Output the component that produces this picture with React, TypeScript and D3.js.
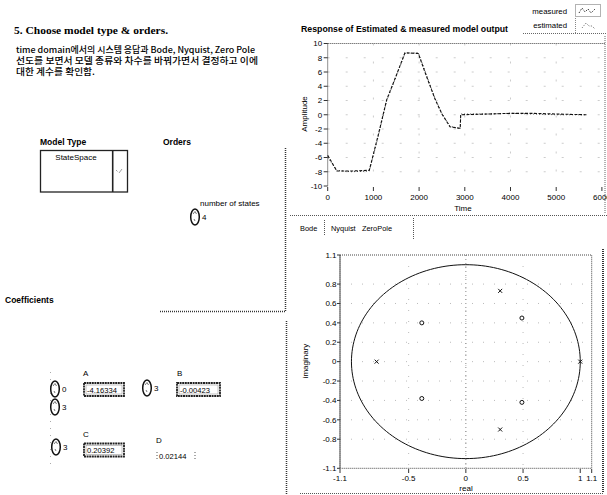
import * as d3 from "d3";
import React from "react";

// time response (measured vs estimated model output)
const timeStamps = [0, 200, 500, 910, 1100, 1291, 1500, 1690, 1983, 2150, 2348, 2500, 2676, 2900, 2910, 3500, 4000, 4500, 5000, 5667];
const measuredOut = [-5.7, -7.9, -7.9, -7.8, -3.0, 2.1, 5.5, 8.7, 8.6, 5.6, 2.2, 0.1, -1.7, -1.9, 0, 0.1, 0.2, 0.2, 0.1, 0];
const estimatedOut = [-6.0, -7.8, -8.0, -7.9, -3.2, 2.0, 5.4, 8.6, 8.7, 5.8, 2.3, 0.2, -1.6, -2.0, 0.1, 0.1, 0.2, 0.1, 0, 0];
const ampTicks = [10, 8, 6, 4, 2, 0, -2, -4, -6, -8, -10];
const timeTicks = [0, 1000, 2000, 3000, 4000, 5000, 6000];

// zero / pole map
const polesRe = [0.3, 0.3, -0.78, 1.0];
const polesIm = [0.73, -0.7, 0, 0];
const zerosRe = [-0.385, -0.385, 0.49, 0.49];
const zerosIm = [0.4, -0.38, 0.45, -0.42];
const realTicks = [-1.1, -0.5, 0, 0.5, 1, 1.1];
const imagTicks = [1.1, 0.8, 0.6, 0.4, 0.2, 0, -0.2, -0.4, -0.6, -0.8, -1.1];

const tabNames = ["Bode", "Nyquist", "ZeroPole"];
const coeffNames = ["A", "B", "C", "D"];
const coeffValues = ["-4.16334", "-0.00423", "0.20392", "0.02144"];
const introLines = [
    "time domain에서의 시스템 응답과 Bode, Nyquist, Zero Pole",
    "선도를 보면서 모델 종류와 차수를 바꿔가면서 결정하고 이에",
    "대한 계수를 확인함.",
];

const ui = "'Liberation Sans', Arial, sans-serif";
const dot = "1,1";

function Spinner({ x, y, label }: { x: number; y: number; label: string }) {
    return (
        <g>
            <ellipse cx={x} cy={y} rx={4.3} ry={8} fill="none" stroke="#111" strokeWidth={1.5} />
            <path d={`M${x - 2},${y - 3} l2,-2.5 l1.5,2.5 M${x - 1},${y + 2} l1,2`} stroke="#555" strokeWidth={0.8} fill="none" />
            <text x={x + 7} y={y + 3} fontSize={8} fontFamily={ui}>{label}</text>
        </g>
    );
}

function NumBox({ x, y, w, value }: { x: number; y: number; w: number; value: string }) {
    return (
        <g>
            <rect x={x} y={y} width={w} height={13} fill="#fff" stroke="#222" strokeWidth={1.8} strokeDasharray="2,0.6" />
            <rect x={x + 2} y={y + 2} width={w - 4} height={9} fill="none" stroke="#999" strokeWidth={0.6} />
            <text x={x + 3} y={y + 9.6} fontSize={7.6} fontFamily={ui}>{value}</text>
        </g>
    );
}

export default function App() {
    const xT = d3.scaleLinear().domain([0, 6000]).range([327.7, 601.9]);
    const yT = d3.scaleLinear().domain([-10, 10]).range([186, 43.5]);
    const respLine = (vals: number[]) =>
        d3.line<number>().x((_, i) => xT(timeStamps[i])).y((d) => yT(d))(vals) || "";

    const xZ = d3.scaleLinear().domain([-1.1, 1.1]).range([340, 591.7]);
    const yZ = d3.scaleLinear().domain([-1.1, 1.1]).range([468.3, 255]);
    const unitCircle =
        d3
            .line<number>()
            .x((a) => xZ(Math.cos((a * Math.PI) / 180)))
            .y((a) => yZ(Math.sin((a * Math.PI) / 180)))(d3.range(0, 362, 2)) || "";

    return (
        <svg width={607} height={495} style={{ position: "absolute", left: 0, top: 0, background: "#fff" }}>
            {/* ---------- left panel ---------- */}
            <text x={14} y={34} fontSize={10.5} fontWeight="bold" fontFamily="'Liberation Serif', serif" textLength={154} lengthAdjust="spacingAndGlyphs">
                5. Choose model type &amp; orders.
            </text>
            {introLines.map((t, i) => (
                <text key={i} x={16} y={53 + i * 11} fontSize={8.6} fontWeight={500} fontFamily="'Noto Sans CJK KR', sans-serif"
                    textLength={[239, 242, 79][i]} lengthAdjust="spacingAndGlyphs">{t}</text>
            ))}

            <text x={40} y={145} fontSize={8.5} fontWeight="bold" fontFamily={ui}>Model Type</text>
            <rect x={40.5} y={150.5} width={87} height={41.5} fill="#fff" stroke="#222" strokeWidth={1.3} />
            <line x1={112.7} x2={112.7} y1={150.5} y2={192} stroke="#222" strokeWidth={1.6} />
            <text x={76} y={160} fontSize={8} fontFamily={ui} textAnchor="middle">StateSpace</text>
            <path d="M116,170 l1.5,1.5 M119,173 l3,-4" stroke="#888" strokeWidth={0.8} fill="none" />

            <text x={163} y={145} fontSize={8.5} fontWeight="bold" fontFamily={ui}>Orders</text>
            <line x1={285.5} x2={285.5} y1={148} y2={312} stroke="#333" strokeWidth={1.5} strokeDasharray={dot} />
            <line x1={160} x2={285.5} y1={311.5} y2={311.5} stroke="#333" strokeWidth={1.3} strokeDasharray={dot} />
            <line x1={286.5} x2={286.5} y1={321} y2={495} stroke="#333" strokeWidth={1.5} strokeDasharray={dot} />
            <text x={200} y={206} fontSize={8} fontFamily={ui}>number of states</text>
            <Spinner x={195} y={217} label="4" />

            <text x={5} y={303} fontSize={8.5} fontWeight="bold" fontFamily={ui}>Coefficients</text>
            <line x1={50.5} x2={50.5} y1={372} y2={466} stroke="#aaa" strokeWidth={1} strokeDasharray="1,6" />
            <Spinner x={55} y={389} label="0" />
            <Spinner x={55} y={407} label="3" />
            <Spinner x={147} y={388} label="3" />
            <Spinner x={56} y={447} label="3" />

            <text x={83} y={376} fontSize={8} fontFamily={ui}>{coeffNames[0]}</text>
            <NumBox x={84} y={383} w={40} value={coeffValues[0]} />
            <text x={177} y={376} fontSize={8} fontFamily={ui}>{coeffNames[1]}</text>
            <NumBox x={177} y={383} w={43} value={coeffValues[1]} />
            <text x={83} y={437} fontSize={8} fontFamily={ui}>{coeffNames[2]}</text>
            <NumBox x={84} y={443.5} w={40} value={coeffValues[2]} />
            <text x={156} y={443} fontSize={8} fontFamily={ui}>{coeffNames[3]}</text>
            <line x1={157} x2={157} y1={452} y2={460} stroke="#555" strokeDasharray="1,2" />
            <text x={159} y={459} fontSize={7.6} fontFamily={ui}>{coeffValues[3]}</text>
            <line x1={195} x2={195} y1={452} y2={460} stroke="#555" strokeDasharray="1,2" />

            {/* ---------- response chart ---------- */}
            <text x={301} y={32} fontSize={8.3} fontWeight="bold" fontFamily={ui} textLength={207} lengthAdjust="spacingAndGlyphs">
                Response of Estimated &amp; measured model output
            </text>
            <text x={567} y={14} fontSize={7.8} fontFamily={ui} textAnchor="end">measured</text>
            <text x={567} y={28} fontSize={7.8} fontFamily={ui} textAnchor="end">estimated</text>
            <rect x={575.5} y={4.5} width={25} height={12} fill="none" stroke="#666" strokeDasharray={dot} />
            <path d="M579,13 l3,-5 l3,4 l3,-3 l3,4 l4,-4" stroke="#333" fill="none" strokeDasharray="1.5,1.5" />
            <path d="M582,28 l4,-5 l3,3 l3,0 l3,3" stroke="#666" fill="none" strokeDasharray="1,1.5" />
            <line x1={575.5} x2={575.5} y1={18} y2={33} stroke="#888" strokeDasharray={dot} />
            <line x1={523} x2={607} y1={33.5} y2={33.5} stroke="#666" strokeDasharray={dot} />

            <g stroke="#ccc" strokeWidth={1} strokeDasharray="2,16">
                {ampTicks.slice(1, -1).map((a) => (
                    <line key={a} x1={xT(0)} x2={xT(6000)} y1={yT(a)} y2={yT(a)} />
                ))}
                {timeTicks.slice(1, -1).map((t) => (
                    <line key={t} x1={xT(t)} x2={xT(t)} y1={yT(10)} y2={yT(-10)} />
                ))}
            </g>
            <line x1={xT(0)} x2={605} y1={yT(10)} y2={yT(10)} stroke="#444" strokeDasharray={dot} />
            <line x1={xT(0)} x2={xT(0)} y1={yT(10)} y2={yT(-10)} stroke="#222" strokeDasharray={dot} />
            <line x1={605} x2={605} y1={36} y2={214} stroke="#666" strokeDasharray={dot} />
            {ampTicks.map((a) => (
                <g key={a}>
                    <line x1={xT(0) - 4} x2={xT(0)} y1={yT(a)} y2={yT(a)} stroke="#333" />
                    <text x={xT(0) - 5.5} y={yT(a)} dy="0.35em" fontSize={8} fontFamily={ui} textAnchor="end">{a}</text>
                </g>
            ))}
            {timeTicks.map((t) => (
                <g key={t}>
                    <line x1={xT(t)} x2={xT(t)} y1={187} y2={191} stroke="#333" />
                    <text x={xT(t)} y={200} fontSize={8} fontFamily={ui} textAnchor="middle">{t}</text>
                </g>
            ))}
            <text x={463} y={211} fontSize={8} fontFamily={ui} textAnchor="middle">Time</text>
            <text transform="translate(307,114) rotate(-90)" fontSize={8} fontFamily={ui} textAnchor="middle">Amplitude</text>

            <path d={respLine(estimatedOut)} fill="none" stroke="#444" strokeWidth={1} strokeDasharray="1,2" />
            <path d={respLine(measuredOut)} fill="none" stroke="#111" strokeWidth={1.1} strokeDasharray="3,1.5" />

            {/* ---------- tabs ---------- */}
            <line x1={290} x2={607} y1={215.5} y2={215.5} stroke="#555" strokeDasharray={dot} />
            {tabNames.map((n, i) => (
                <text key={n} x={[300, 331, 362][i]} y={231} fontSize={7.4} fontFamily={ui}>{n}</text>
            ))}
            <line x1={324.5} x2={324.5} y1={220} y2={236} stroke="#555" strokeDasharray={dot} />
            <line x1={413.5} x2={413.5} y1={218} y2={240} stroke="#555" strokeDasharray={dot} />

            {/* ---------- zero pole map ---------- */}
            <g stroke="#bbb" strokeWidth={1} strokeDasharray="1,10">
                {imagTicks.slice(1, -1).map((v) => (
                    <line key={v} x1={xZ(-1.1)} x2={xZ(1.1)} y1={yZ(v)} y2={yZ(v)} />
                ))}
                {realTicks.slice(1, -2).map((v) => (
                    <line key={v} x1={xZ(v)} x2={xZ(v)} y1={yZ(1.1)} y2={yZ(-1.1)} />
                ))}
            </g>
            <line x1={xZ(0)} x2={xZ(0)} y1={yZ(1.1)} y2={yZ(-1.1)} stroke="#888" strokeDasharray="1,3" />
            <rect x={xZ(-1.1)} y={yZ(1.1)} width={xZ(1.1) - xZ(-1.1)} height={yZ(-1.1) - yZ(1.1)} fill="none" stroke="#444" strokeDasharray={dot} />
            <line x1={xZ(-1.1)} x2={xZ(-1.1)} y1={yZ(1.1)} y2={yZ(-1.1)} stroke="#222" strokeDasharray={dot} />
            <path d={unitCircle} fill="none" stroke="#111" strokeWidth={1} />
            {polesRe.map((re, i) => (
                <path key={i} d={`M${xZ(re) - 2},${yZ(polesIm[i]) - 2} l4,4 M${xZ(re) + 2},${yZ(polesIm[i]) - 2} l-4,4`} stroke="#111" strokeWidth={1} />
            ))}
            {zerosRe.map((re, i) => (
                <circle key={i} cx={xZ(re)} cy={yZ(zerosIm[i])} r={2} fill="none" stroke="#111" strokeWidth={1} />
            ))}
            {imagTicks.map((v) => (
                <g key={v}>
                    <line x1={xZ(-1.1) - 3} x2={xZ(-1.1)} y1={yZ(v)} y2={yZ(v)} stroke="#333" />
                    <text x={xZ(-1.1) - 3.5} y={yZ(v)} dy="0.35em" fontSize={8} fontFamily={ui} textAnchor="end">{v}</text>
                </g>
            ))}
            {realTicks.map((v) => (
                <g key={v}>
                    <line x1={xZ(v)} x2={xZ(v)} y1={469} y2={473} stroke="#333" />
                    <text x={xZ(v)} y={481} fontSize={8} fontFamily={ui} textAnchor="middle">{v}</text>
                </g>
            ))}
            <text x={466} y={491} fontSize={8} fontFamily={ui} textAnchor="middle">real</text>
            <text transform="translate(308,361) rotate(-90)" fontSize={8} fontFamily={ui} textAnchor="middle">imaginary</text>
            <line x1={603} x2={603} y1={249} y2={493} stroke="#333" strokeWidth={2} strokeDasharray={dot} />
            <line x1={300} x2={603} y1={493.5} y2={493.5} stroke="#555" strokeDasharray={dot} />
        </svg>
    );
}
